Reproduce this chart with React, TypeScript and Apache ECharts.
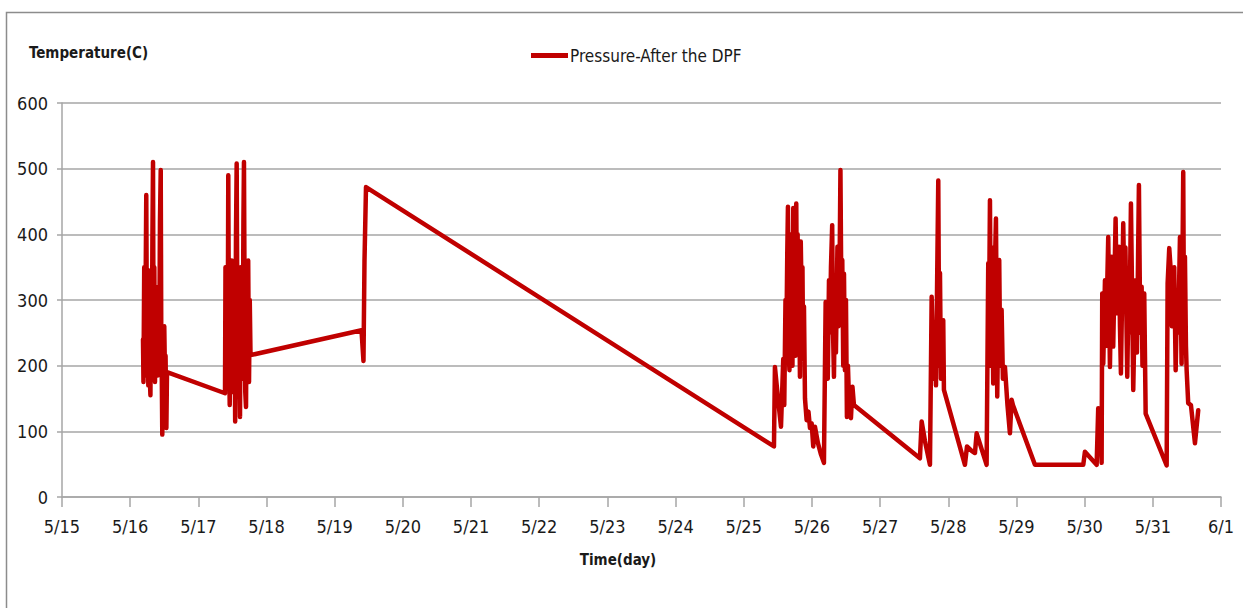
import React, { useEffect, useRef } from "react";
import * as echarts from "echarts";

// Time in days of May (e.g. 16.25 = May 16, 06:00); 32 = June 1
const timeDays: number[] = [
  16.188, 16.195, 16.206, 16.214, 16.225, 16.236, 16.247, 16.255, 16.266, 16.276,
  16.285, 16.297, 16.305, 16.317, 16.326, 16.335, 16.343, 16.354, 16.364, 16.374,
  16.385, 16.393, 16.404, 16.414, 16.426, 16.437, 16.448, 16.456, 16.464, 16.471,
  16.481, 16.49, 16.5, 16.511, 16.519, 16.531, 16.54,
  17.391, 17.398, 17.408, 17.42, 17.429, 17.439, 17.449, 17.46, 17.47, 17.479,
  17.49, 17.501, 17.511, 17.523, 17.532, 17.54, 17.552, 17.562, 17.573, 17.581,
  17.592, 17.602, 17.611, 17.621, 17.631, 17.64, 17.65, 17.661, 17.669, 17.68,
  17.688, 17.699, 17.71, 17.721, 17.731, 17.743, 17.754, 17.765,
  19.393, 19.422, 19.437, 19.459,
  25.443, 25.457, 25.502, 25.546, 25.579, 25.594, 25.612, 25.626, 25.638, 25.648,
  25.66, 25.67, 25.682, 25.692, 25.704, 25.714, 25.726, 25.736, 25.748, 25.758,
  25.77, 25.78, 25.79, 25.802, 25.812, 25.824, 25.836, 25.849, 25.861, 25.871,
  25.883, 25.898, 25.922, 25.949, 25.971, 25.996, 26.019, 26.044, 26.088, 26.132,
  26.176, 26.201, 26.217, 26.232, 26.25, 26.264, 26.279, 26.297, 26.308, 26.323,
  26.338, 26.352, 26.374, 26.389, 26.404, 26.418, 26.433, 26.445, 26.459, 26.47,
  26.484, 26.499, 26.513, 26.528, 26.543, 26.558, 26.572, 26.594, 26.616,
  27.584, 27.609, 27.658, 27.731, 27.756, 27.782, 27.804, 27.819, 27.853, 27.867,
  27.878, 27.892, 27.926, 27.936,
  28.244, 28.274, 28.347, 28.391, 28.416, 28.562, 28.586, 28.596, 28.611, 28.626,
  28.64, 28.659, 28.677, 28.699, 28.718, 28.733, 28.747, 28.762, 28.782, 28.801,
  28.831, 28.868, 28.904, 28.929, 28.948,
  29.271, 29.98, 30.004, 30.063, 30.176, 30.199, 30.224, 30.249,
  30.258, 30.273, 30.298, 30.312, 30.346, 30.371, 30.396, 30.419, 30.454, 30.474,
  30.488, 30.503, 30.518, 30.532, 30.566, 30.584, 30.598, 30.625, 30.642, 30.657,
  30.679, 30.697, 30.713, 30.73, 30.748, 30.767, 30.796, 30.815, 30.836, 30.848,
  30.86, 30.874, 30.895,
  31.203, 31.217, 31.241, 31.266, 31.28, 31.314, 31.335, 31.354, 31.373, 31.398,
  31.422, 31.446, 31.456, 31.471, 31.486, 31.496, 31.519, 31.559, 31.618, 31.666,
];

const temperatureC: number[] = [
  240, 175, 350, 185, 300, 460, 200, 330, 170, 345,
  190, 155, 300, 200, 390, 510, 220, 350, 175, 320,
  200, 300, 185, 280, 210, 420, 498, 250, 180, 95,
  260, 190, 260, 180, 215, 105, 190,
  158, 350, 200, 320, 175, 490, 230, 140, 330, 200,
  360, 160, 300, 190, 250, 115, 400, 508, 250, 170,
  320, 200, 122, 350, 210, 300, 180, 420, 510, 260,
  160, 137, 330, 200, 360, 175, 300, 216,
  254, 207, 360, 472,
  77, 198, 150, 107, 210, 140, 300, 250, 370, 442,
  220, 193, 400, 260, 380, 200, 440, 300, 360, 215,
  447, 280, 400, 240, 330, 183, 389, 300, 350, 210,
  290, 150, 117, 130, 105, 112, 77, 107, 82, 65,
  52, 297, 200, 180, 330, 250, 350, 414, 260, 183,
  320, 220, 381, 260, 330, 498, 280, 361, 200, 340,
  193, 300, 122, 200, 150, 158, 120, 168, 140,
  59, 115, 85, 49, 305, 180, 250, 170, 482, 200,
  341, 180, 269, 163,
  49, 77, 70, 67, 97, 49, 356, 250, 452, 200,
  380, 173, 320, 424, 153, 280, 361, 200, 285, 180,
  198, 140, 97, 148, 140,
  49, 49, 69, 62, 49, 135, 130, 52,
  310, 203, 330, 230, 396, 198, 366, 229, 424, 280,
  330, 381, 260, 188, 417, 300, 380, 183, 300, 250,
  447, 300, 163, 260, 330, 220, 475, 250, 320, 200,
  234, 310, 127,
  48, 325, 379, 340, 260, 350, 193, 300, 250, 396,
  203, 495, 280, 366, 230, 193, 143, 140, 82, 132,
];

const seriesName = "Pressure-After the DPF";
const yAxisTitle = "Temperature(C)";
const xAxisTitle = "Time(day)";
const yTicks = { min: 0, max: 600, step: 100 };
const xTicks = { min: 15, max: 32, step: 1 };

const FONT = "'Liberation Sans Narrow', 'DejaVu Sans Condensed', 'Open Sans', sans-serif";
const RED = "#c00000";
const GRAY = "#a6a6a6";

function dayLabel(v: number): string {
  return v <= 31 ? `5/${v}` : `6/${v - 31}`;
}

export default function App() {
  const ref = useRef<HTMLDivElement>(null);
  useEffect(() => {
    if (!ref.current) return;
    const chart = echarts.init(ref.current, undefined, { renderer: "svg" });
    const data = timeDays.map((t, i) => [t, temperatureC[i]]);
    chart.setOption({
      animation: false,
      backgroundColor: "#ffffff",
      textStyle: { fontFamily: FONT },
      title: {
        text: yAxisTitle,
        left: 24,
        top: 40,
        textStyle: { fontFamily: FONT, fontSize: 15, fontWeight: "bold", color: "#1a1a1a" },
      },
      legend: {
        data: [seriesName],
        left: 526,
        top: 42,
        icon: "rect",
        itemWidth: 37,
        itemHeight: 5,
        itemGap: 4,
        textStyle: { fontFamily: FONT, fontSize: 17, color: "#1a1a1a", padding: [0, 0, 0, -3] },
      },
      graphic: [
        {
          type: "rect",
          shape: { x: 6.5, y: 12.5, width: 1400, height: 800 },
          style: { fill: "none", stroke: "#8c8c8c", lineWidth: 1.5 },
          silent: true,
          z: -1,
        },
      ],
      grid: { left: 62, right: 22, top: 103, bottom: 111, containLabel: false },
      xAxis: {
        type: "value",
        min: xTicks.min,
        max: xTicks.max,
        interval: xTicks.step,
        name: xAxisTitle,
        nameLocation: "middle",
        nameGap: 55,
        nameTextStyle: {
          fontFamily: FONT,
          fontSize: 15,
          fontWeight: "bold",
          color: "#1a1a1a",
          padding: [0, 47, 0, 0],
        },
        axisLine: { show: true, lineStyle: { color: GRAY, width: 1.5 } },
        axisTick: { show: true, length: 10, lineStyle: { color: GRAY, width: 1.5 } },
        axisLabel: {
          formatter: dayLabel,
          fontFamily: FONT,
          fontSize: 18,
          color: "#1a1a1a",
          margin: 20,
        },
        splitLine: { show: false },
      },
      yAxis: {
        type: "value",
        min: yTicks.min,
        max: yTicks.max,
        interval: yTicks.step,
        axisLine: { show: true, lineStyle: { color: GRAY, width: 1.5 } },
        axisTick: { show: true, length: 5, lineStyle: { color: GRAY, width: 1.5 } },
        axisLabel: { fontFamily: FONT, fontSize: 18, color: "#1a1a1a", margin: 14 },
        splitLine: { show: true, lineStyle: { color: GRAY, width: 1.5 } },
      },
      series: [
        {
          name: seriesName,
          type: "line",
          data,
          showSymbol: false,
          symbol: "none",
          color: RED,
          lineStyle: { color: RED, width: 4.5, join: "round", cap: "round" },
        },
      ],
    });
    return () => chart.dispose();
  }, []);
  return (
    <div
      ref={ref}
      style={{ position: "absolute", left: 0, top: 0, width: 1243, height: 608 }}
    />
  );
}
